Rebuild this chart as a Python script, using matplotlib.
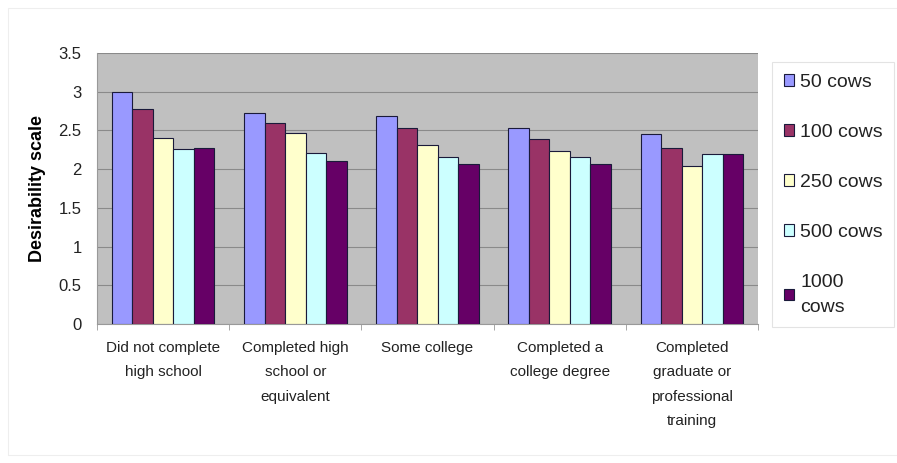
import matplotlib
matplotlib.use("Agg")
import matplotlib.pyplot as plt
import numpy as np

categories = ["Did not complete\nhigh school", "Completed high\nschool or\nequivalent",
              "Some college", "Completed a\ncollege degree",
              "Completed\ngraduate or\nprofessional\ntraining"]
series_names = ["50 cows", "100 cows", "250 cows", "500 cows", "1000\ncows"]
cows50 = [3.00, 2.73, 2.68, 2.53, 2.45]
cows100 = [2.78, 2.59, 2.53, 2.39, 2.27]
cows250 = [2.40, 2.47, 2.31, 2.23, 2.04]
cows500 = [2.26, 2.21, 2.16, 2.16, 2.20]
cows1000 = [2.27, 2.10, 2.06, 2.07, 2.19]
series = [cows50, cows100, cows250, cows500, cows1000]
colors = ["#9999FF", "#993366", "#FFFFCC", "#CCFFFF", "#660066"]
yticks = [0, 0.5, 1, 1.5, 2, 2.5, 3, 3.5]
ytick_labels = ["0", "0.5", "1", "1.5", "2", "2.5", "3", "3.5"]

plt.rcParams['font.family'] = ['Liberation Sans', 'DejaVu Sans']

fig = plt.figure(figsize=(8.97, 4.63), dpi=100)
ax = fig.add_axes([97/897, 1-324/463, (758-97)/897, (324-53)/463])
ax.set_facecolor("#C0C0C0")

n = len(series)
w = 0.155
x = np.arange(len(categories))
for i, (vals, c, name) in enumerate(zip(series, colors, series_names)):
    ax.bar(x + (i - (n-1)/2) * w, vals, w, color=c, edgecolor="#1a1a3a",
           linewidth=0.8, label=name, zorder=3)

ax.set_xlim(-0.5, len(categories) - 0.5)
ax.set_ylim(0, 3.5)
ax.set_yticks(yticks)
ax.set_yticklabels(ytick_labels, fontsize=12, color="#222222")
ax.yaxis.grid(True, color="#8a8a8a", linewidth=0.8, zorder=0)
ax.set_axisbelow(True)

ax.set_xticks(x)
ax.set_xticklabels(categories, fontsize=11, color="#222222", linespacing=1.95)
ax.tick_params(axis='x', length=0, pad=12)
ax.set_xticks(np.arange(len(categories) + 1) - 0.5, minor=True)
ax.tick_params(axis='x', which='minor', length=4, color="#999999")
ax.tick_params(axis='y', length=0, pad=11)

for s in ["top", "right"]:
    ax.spines[s].set_visible(False)
ax.spines["left"].set_color("#999999")
ax.spines["bottom"].set_color("#999999")

ax.set_ylabel("Desirability scale", fontsize=13, fontweight="bold", labelpad=9)

leg = fig.legend(loc="upper left", bbox_to_anchor=(772/897, 1-62/463),
                 fontsize=14, frameon=True, fancybox=False, edgecolor="#dddddd",
                 handlelength=0.55, handleheight=0.55, handletextpad=0.3,
                 labelspacing=1.7, borderpad=0.6, borderaxespad=0)
leg.get_frame().set_linewidth(0.8)
for t in leg.get_texts():
    t.set_linespacing(1.6)
    t.set_color("#222222")

fig.add_artist(plt.Rectangle((8/897, 8/463), 1, 1-16/463, transform=fig.transFigure,
                             fill=False, edgecolor="#eeeeee", linewidth=0.8))

fig.savefig("out.png", dpi=100, facecolor="white")
